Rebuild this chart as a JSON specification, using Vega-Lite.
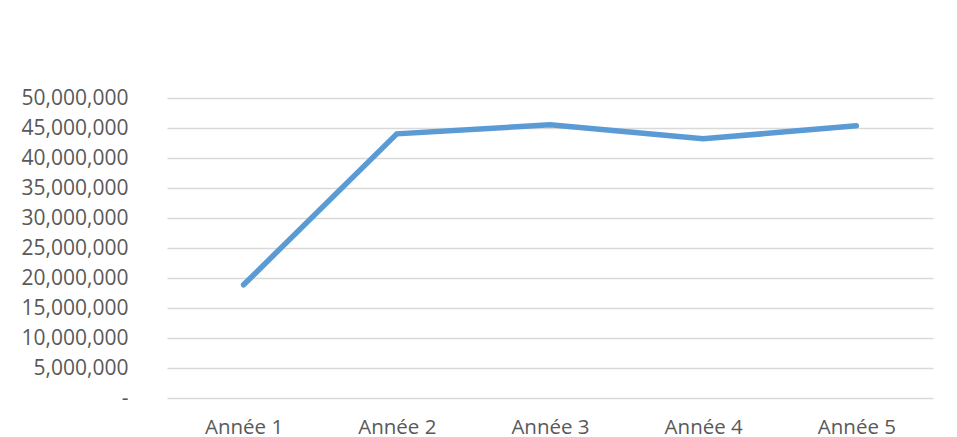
{
  "$schema": "https://vega.github.io/schema/vega-lite/v6.json",
  "autosize": {"type": "none"},
  "width": 766,
  "height": 300,
  "padding": {"left": 167, "top": 98, "right": 24, "bottom": 39},
  "background": "white",
  "config": {
    "view": {"stroke": null},
    "font": "Open Sans"
  },
  "data": {
    "values": [
      {"annee": "Année 1", "valeur": 18870000},
      {"annee": "Année 2", "valeur": 44030000},
      {"annee": "Année 3", "valeur": 45530000},
      {"annee": "Année 4", "valeur": 43200000},
      {"annee": "Année 5", "valeur": 45370000}
    ]
  },
  "mark": {"type": "line", "color": "#5b9bd5", "strokeWidth": 5.5, "strokeCap": "round", "strokeJoin": "miter"},
  "encoding": {
    "x": {
      "field": "annee",
      "type": "ordinal",
      "sort": null,
      "scale": {"type": "point", "padding": 0.5},
      "axis": {
        "title": null,
        "domain": false,
        "ticks": false,
        "labelAngle": 0,
        "labelFont": "Open Sans",
        "labelFontSize": 20.5,
        "labelColor": "#595959",
        "labelPadding": 19,
        "labelBaseline": "top"
      }
    },
    "y": {
      "field": "valeur",
      "type": "quantitative",
      "scale": {"domain": [0, 50000000], "nice": false, "zero": true},
      "axis": {
        "title": null,
        "domain": false,
        "ticks": false,
        "values": [0, 5000000, 10000000, 15000000, 20000000, 25000000, 30000000, 35000000, 40000000, 45000000, 50000000],
        "labelExpr": "datum.value == 0 ? '-\u00a0\u00a0\u00a0' : format(datum.value, ',')",
        "labelFont": "Open Sans",
        "labelFontSize": 21,
        "labelColor": "#595959",
        "labelPadding": 39,
        "grid": true,
        "gridColor": "#d9d9d9",
        "gridWidth": 1.5
      }
    }
  }
}
